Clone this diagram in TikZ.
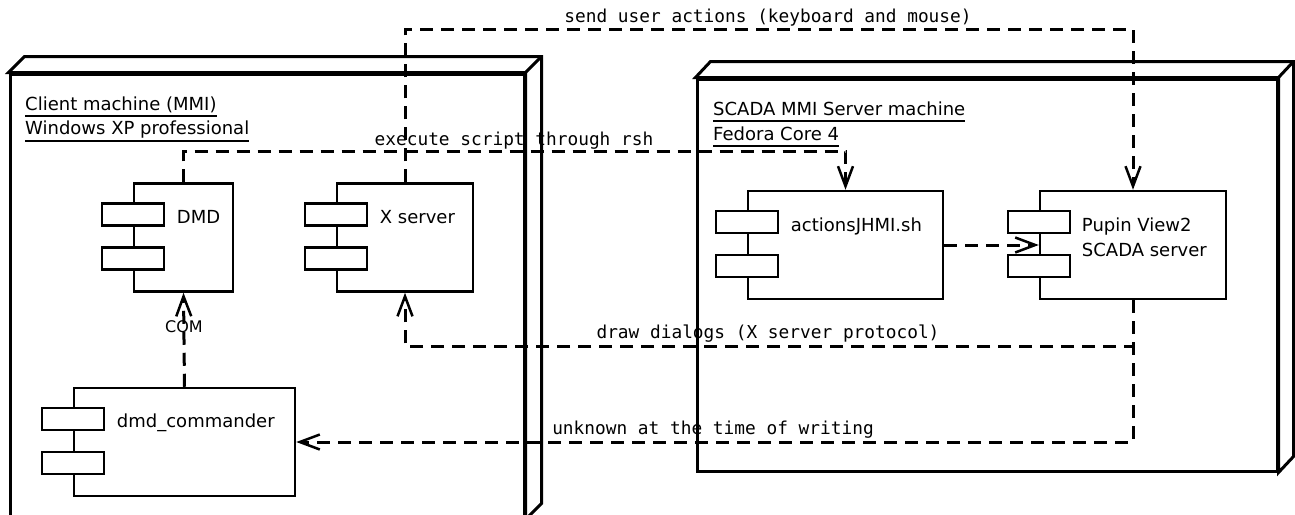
\documentclass[tikz,border=0pt]{standalone}
\usepackage{fontspec}
\setmainfont{DejaVu Sans}
\setmonofont{DejaVu Sans Mono}
\usetikzlibrary{arrows.meta,calc}

\tikzset{
  machine/.style={draw, line width=3pt, fill=white, inner sep=0pt},
  machineedge/.style={line width=3pt, line join=miter},
  comp/.style={draw, line width=2.5pt, fill=white, inner sep=0pt},
  compbar/.style={draw, line width=2.5pt, fill=white},
  complabel/.style={anchor=base west, inner sep=0pt,
    font=\fontsize{18}{25}\selectfont},
  title/.style={anchor=base west, inner sep=0pt,
    font=\fontsize{18}{24}\selectfont},
  titleline/.style={line width=1.5pt},
  conn/.style={line width=3pt, dash pattern=on 13pt off 8pt,
    -{Straight Barb[length=20pt, width=15pt, line width=2.5pt]}},
  connlabel/.style={anchor=base, inner sep=0pt,
    font=\ttfamily\fontsize{17.8}{20}\selectfont},
}

% component box: main rectangle plus the two small bars on its left edge
\newcommand{\compbars}[1]{%
  \draw[compbar] ($(#1.north west)+(-31,21)$) rectangle ++(62,22);
  \draw[compbar] ($(#1.north west)+(-31,65)$) rectangle ++(62,22);
}

\begin{document}
\begin{tikzpicture}[x=1pt, y=-1pt]
\useasboundingbox (0,0) rectangle (1295,514);

% ---------- nodes (3D boxes) ----------
\node[machine, minimum width=514pt, minimum height=444pt] (client) at (267,296) {};
\draw[machineedge, fill=white] (client.north west) -- ++(16,-16) -| ($(client.south east)+(16,-16)$)
  -- (client.south east) -- (client.north east) -- cycle;
\draw[machineedge] (client.north east) -- ++(16,-16);

\node[machine, minimum width=580pt, minimum height=392pt] (server) at (987,275) {};
\draw[machineedge, fill=white] (server.north west) -- ++(15,-16) -| ($(server.south east)+(15,-16)$)
  -- (server.south east) -- (server.north east) -- cycle;
\draw[machineedge] (server.north east) -- ++(15,-16);

% ---------- node titles ----------
\node[title] (ct1) at (25,110) {Client machine (MMI)};
\node[title] (ct2) at (25,134) {Windows XP professional};
\draw[titleline] ($(ct1.base west)+(0,6)$) -- ($(ct1.base east)+(0,6)$);
\draw[titleline] ($(ct2.base west)+(0,7)$) -- ($(ct2.base east)+(0,7)$);

\node[title] (st1) at (713,115) {SCADA MMI Server machine};
\node[title] (st2) at (713,140) {Fedora Core 4};
\draw[titleline] ($(st1.base west)+(0,6)$) -- ($(st1.base east)+(0,6)$);
\draw[titleline] ($(st2.base west)+(0,6)$) -- ($(st2.base east)+(0,6)$);

% ---------- components ----------
\node[comp, minimum width=99pt, minimum height=108pt] (dmd) at (183.5,237.5) {};
\compbars{dmd}
\node[complabel] at ($(dmd.north west)+(44,41)$) {DMD};

\node[comp, minimum width=136pt, minimum height=108pt] (xs) at (405,237.5) {};
\compbars{xs}
\node[complabel] at ($(xs.north west)+(44,41)$) {X server};

\node[comp, minimum width=221pt, minimum height=108pt] (dmdcmd) at (184.5,442) {};
\compbars{dmdcmd}
\node[complabel] at ($(dmdcmd.north west)+(44,41)$) {dmd\_commander};

\node[comp, minimum width=195pt, minimum height=108pt] (actions) at (845.5,245) {};
\compbars{actions}
\node[complabel] at ($(actions.north west)+(44,42)$) {actionsJHMI.sh};

\node[comp, minimum width=186pt, minimum height=108pt] (pupin) at (1133,245) {};
\compbars{pupin}
\node[complabel] at ($(pupin.north west)+(43,42)$) {Pupin View2};
\node[complabel] at ($(pupin.north west)+(43,67)$) {SCADA server};

% ---------- connectors ----------
\draw[conn] (dmdcmd.north) -- (dmd.south);
\node[font=\fontsize{16}{18}\selectfont, inner sep=0pt] (com) at (184,327) {COM};

\draw[conn] (dmd.north) -- ++(0,-31) coordinate (e1) -| (actions.north);
\node[connlabel] at (514,145) {execute script through rsh};

\draw[conn] (xs.north) -- ++(0,-153) coordinate (s1) -| (pupin.north);
\node[connlabel] at (768,23) {send user actions (keyboard and mouse)};

\draw[conn] (actions.east) -- (pupin.west);

\draw[conn] (pupin.south) -- ++(0,46) coordinate (d1) -| (xs.south);
\node[connlabel] at (768,338) {draw dialogs (X server protocol)};

\draw[conn] (pupin.south) |- (dmdcmd.east);
\node[connlabel] at (713,434) {unknown at the time of writing};
\end{tikzpicture}
\end{document}
